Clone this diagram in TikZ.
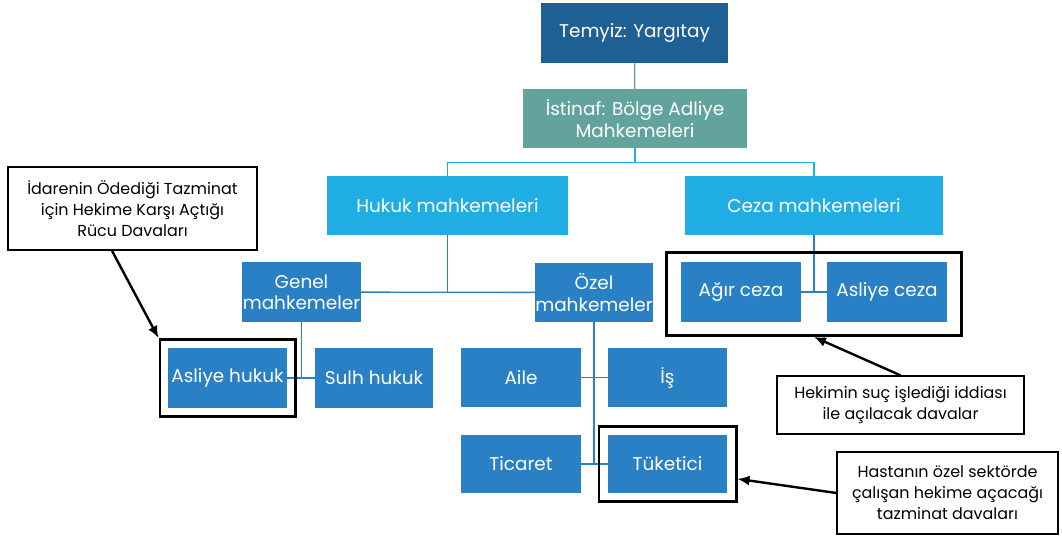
\documentclass[tikz,border=0pt]{standalone}
\usepackage{fontspec}
\setmainfont{Poppins}
\usetikzlibrary{fit,arrows.meta}
\definecolor{yargiblue}{HTML}{1E5F94}
\definecolor{istinafteal}{HTML}{62A39E}
\definecolor{lightcourt}{HTML}{1FADE4}
\definecolor{midcourt}{HTML}{2A80C5}
\tikzset{
  court/.style={rectangle,fill=midcourt,text=white,align=center,inner sep=0pt,
    font=\fontsize{18.5}{21.5}\selectfont},
  callout/.style={rectangle,draw=black,line width=1.3bp,fill=white,align=center,
    inner sep=0pt,font=\fontsize{16}{21}\selectfont},
  frame/.style={rectangle,draw=black,line width=2.6bp,inner sep=0pt},
  link/.style={draw=midcourt,line width=1.3bp},
  callarrow/.style={->,draw=black,line width=2.4bp},
}
\begin{document}
\begin{tikzpicture}[>={Latex[length=12bp,width=10bp]},x=1bp,y=-1bp]
    \useasboundingbox (0,0) rectangle (1062,540);
    %% courts
    \node (temyiz) at (634.5,33) [court,fill=yargiblue,minimum width=187bp,minimum height=60bp] {Temyiz: Yargıtay};
    \node (istinaf) at (635,118.5) [court,fill=istinafteal,minimum width=224bp,minimum height=59bp] {İstinaf: Bölge Adliye\\Mahkemeleri};
    \node (hukuk) at (447.5,205.5) [court,fill=lightcourt,minimum width=241bp,minimum height=59bp] {Hukuk mahkemeleri};
    \node (ceza) at (814,205.5) [court,fill=lightcourt,minimum width=258bp,minimum height=59bp] {Ceza mahkemeleri};
    \node (genel) at (301.5,292) [court,minimum width=119bp,minimum height=60bp] {Genel\\mahkemeler};
    \node (ozel) at (594,292.5) [court,minimum width=118bp,minimum height=59bp] {Özel\\mahkemeler};
    \node (agir) at (741,292) [court,minimum width=120bp,minimum height=60bp] {Ağır ceza};
    \node (asliyeceza) at (887,292) [court,minimum width=120bp,minimum height=60bp] {Asliye ceza};
    \node (asliyehukuk) at (227.5,378) [court,minimum width=119bp,minimum height=60bp] {Asliye hukuk};
    \node (sulh) at (374,378) [court,minimum width=118bp,minimum height=60bp] {Sulh hukuk};
    \node (aile) at (521,377.5) [court,minimum width=120bp,minimum height=59bp] {Aile};
    \node (is) at (667.5,377.5) [court,minimum width=119bp,minimum height=59bp] {İş};
    \node (ticaret) at (521,464) [court,minimum width=120bp,minimum height=58bp] {Ticaret};
    \node (tuketici) at (667.5,464) [court,minimum width=119bp,minimum height=58bp] {Tüketici};
    %% connectors
    \draw [link,draw=istinafteal] (temyiz) -- (istinaf);
    \draw [link,draw=lightcourt] (istinaf.south) -- ++(0,14) -| (hukuk.north);
    \draw [link,draw=lightcourt] (istinaf.south) -- ++(0,14) -| (ceza.north);
    \draw [link] (hukuk) -- (hukuk |- genel);
    \draw [link] (genel) -- (ozel);
    \draw [link] (genel) -- (genel |- asliyehukuk);
    \draw [link] (asliyehukuk) -- (sulh);
    \draw [link] (ozel) -- (ozel |- tuketici);
    \draw [link] (aile) -- (is);
    \draw [link] (ticaret) -- (tuketici);
    \draw [link] (ceza) -- (ceza |- agir);
    \draw [link] (agir) -- (asliyeceza);
    %% frames
    \node (hukukframe) [frame,fit=(asliyehukuk),inner xsep=8bp,inner ysep=8.5bp] {};
    \node (cezaframe) [frame,fit=(agir)(asliyeceza),inner xsep=14.5bp,inner ysep=11.5bp,yshift=-2bp] {};
    \node (tuketiciframe) [frame,fit=(tuketici),inner xsep=9bp,inner ysep=8.5bp] {};
    %% callouts
    \node (rucu) at (132.5,208.5) [callout,minimum width=249bp,minimum height=83bp] {İdarenin Ödediği Tazminat\\için Hekime Karşı Açtığı\\Rücu Davaları};
    \node (suc) at (900.5,405) [callout,minimum width=247bp,minimum height=58bp] {Hekimin suç işlediği iddiası\\ile açılacak davalar};
    \node (hasta) at (947.5,493) [callout,minimum width=221bp,minimum height=82bp] {Hastanın özel sektörde\\çalışan hekime açacağı\\tazminat davaları};
    \draw [callarrow] (rucu.244) -- (hukukframe.north west);
    \draw [callarrow] (suc.north) -- (cezaframe.south);
    \draw [callarrow] (hasta.west) -- (tuketiciframe.-12);
    %
\end{tikzpicture}
\end{document}
